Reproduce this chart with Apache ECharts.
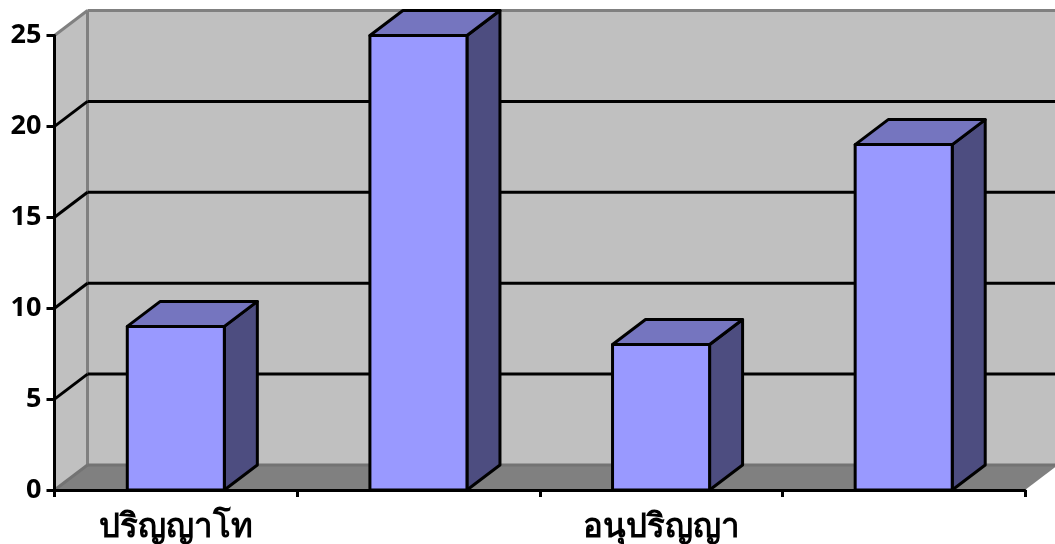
<!DOCTYPE html>
<html><head><meta charset="utf-8">
<style>html,body{margin:0;padding:0;background:#fff}#c{width:1055px;height:544px}</style>
<script src="https://cdn.jsdelivr.net/npm/echarts@6/dist/echarts.min.js"></script>
</head><body><div id="c"></div>
<script>
const categories = ['ปริญญาโท', '', 'อนุปริญญา', ''];
const values = [9, 25, 8, 19];
const gridValues = [5, 10, 15, 20];
const axisMax = 25;
const DX = 33, DY = -25, BAR_RATIO = 0.4;
const FONT = '"Open Sans","Noto Sans","Noto Sans CJK SC",sans-serif';
const chart = echarts.init(document.getElementById('c'), null, {renderer:'canvas'});
function poly(points, fill, stroke, lw){
  return {type:'polygon', shape:{points}, style:{fill, stroke:stroke||null, lineWidth:lw||0, lineJoin:'round'}};
}
function line(a,b,stroke,lw){
  return {type:'line', shape:{x1:a[0],y1:a[1],x2:b[0],y2:b[1]}, style:{stroke, lineWidth:lw}};
}
function bounds(api){
  const band = api.size([1,0])[0];
  const x0 = api.coord([0,0])[0]-band/2;
  const x1 = api.coord([categories.length-1,0])[0]+band/2;
  return {band,x0,x1,y0:api.coord([0,0])[1],yT:api.coord([0,axisMax])[1]};
}
const option = {
  animation:false,
  backgroundColor:'#fff',
  grid:{left:54.5,top:35.5,width:970.5,height:455,containLabel:false},
  xAxis:{type:'category',data:categories,
    axisLine:{show:true,lineStyle:{color:'#000',width:3}},
    axisTick:{show:true,length:7,alignWithLabel:false,interval:0,lineStyle:{color:'#000',width:3}},
    axisLabel:{interval:0,margin:21,fontSize:33,fontWeight:'bold',color:'#000',fontFamily:FONT},
    splitLine:{show:false},z:10},
  yAxis:{type:'value',min:0,max:axisMax,interval:5,
    axisLine:{show:true,lineStyle:{color:'#000',width:3}},
    axisTick:{show:true,length:8,lineStyle:{color:'#000',width:3}},
    axisLabel:{margin:13,fontSize:27,fontWeight:'bold',color:'#000',fontFamily:FONT},
    splitLine:{show:false},z:10},
  series:[
    {type:'custom',name:'walls',silent:true,clip:false,z:1,data:[0],
      renderItem(p,api){
        const b=bounds(api);
        const bl=[b.x0+DX,b.y0+DY], tl=[b.x0+DX,b.yT+DY], br=[b.x1+DX,b.y0+DY], tr=[b.x1+DX,b.yT+DY];
        return {type:'group',children:[
          poly([[b.x0,b.y0],bl,tl,[b.x0,b.yT]],'#c0c0c0'),
          poly([bl,br,tr,tl],'#c0c0c0'),
          poly([[b.x0,b.y0],[b.x1,b.y0],br,bl],'#808080'),
          line(bl,tl,'#808080',3),
          line(tl,tr,'#808080',3),
          line(bl,br,'#737373',3),
          line([b.x0,b.yT],tl,'#808080',3),
          line([b.x0,b.y0],bl,'#737373',3)
        ]};
      }},
    {type:'custom',name:'grid',silent:true,clip:false,z:2,data:gridValues.map(v=>[0,v]),
      encode:{x:0,y:1},
      renderItem(p,api){
        const b=bounds(api);
        const y=api.coord([0,api.value(1)])[1];
        return {type:'group',children:[
          line([b.x0,y],[b.x0+DX,y+DY],'#000',3),
          line([b.x0+DX,y+DY],[b.x1+DX,y+DY],'#000',3)
        ]};
      }},
    {type:'custom',name:'bars',silent:true,clip:false,z:3,data:values.map((v,i)=>[i,v]),
      encode:{x:0,y:1},
      renderItem(p,api){
        const c=api.coord([api.value(0),api.value(1)]);
        const y0=api.coord([api.value(0),0])[1];
        const w=api.size([1,0])[0]*BAR_RATIO;
        const l=c[0]-w/2,r=c[0]+w/2,t=c[1];
        const s='#000',lw=3;
        return {type:'group',children:[
          poly([[r,y0],[r+DX,y0+DY],[r+DX,t+DY],[r,t]],'#4d4d80',s,lw),
          poly([[l,t],[r,t],[r+DX,t+DY],[l+DX,t+DY]],'#7575bf',s,lw),
          poly([[l,y0],[r,y0],[r,t],[l,t]],'#9999ff',s,lw)
        ]};
      }}
  ]
};
chart.setOption(option);
</script></body></html>
